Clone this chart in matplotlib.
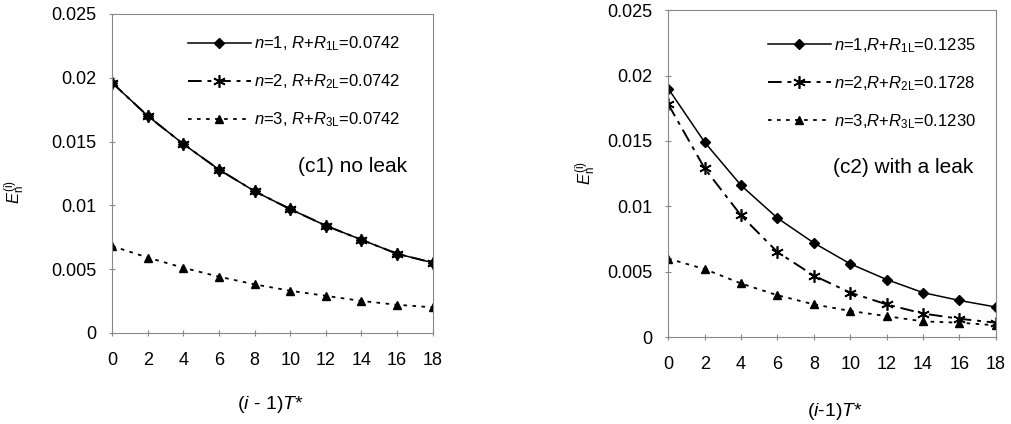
import matplotlib.pyplot as plt

plt.rcParams['font.family'] = ['Liberation Sans', 'DejaVu Sans']
plt.rcParams['mathtext.fontset'] = 'custom'
plt.rcParams['mathtext.rm'] = 'Liberation Sans'
plt.rcParams['mathtext.it'] = 'Liberation Sans:italic'

t = [0, 2, 4, 6, 8, 10, 12, 14, 16, 18]

# (c1) no leak
c1_n1 = [0.0196, 0.0170, 0.0148, 0.0128, 0.0111, 0.0097, 0.0084, 0.0073, 0.0062, 0.0055]
c1_n2 = [0.0196, 0.0170, 0.0148, 0.0128, 0.0111, 0.0097, 0.0084, 0.0073, 0.0062, 0.0055]
c1_n3 = [0.0068, 0.0059, 0.0051, 0.0044, 0.0038, 0.0033, 0.0029, 0.0025, 0.0022, 0.0020]
c1_labels = [r"$n$=1, $R$+$R_{\rm 1L}$=0.0742",
             r"$n$=2, $R$+$R_{\rm 2L}$=0.0742",
             r"$n$=3, $R$+$R_{\rm 3L}$=0.0742"]

# (c2) with a leak
c2_n1 = [0.0190, 0.0149, 0.0116, 0.0091, 0.0072, 0.0056, 0.0044, 0.0034, 0.0028, 0.0023]
c2_n2 = [0.0178, 0.0129, 0.0093, 0.0065, 0.0047, 0.0034, 0.0025, 0.0018, 0.0014, 0.0011]
c2_n3 = [0.0060, 0.0052, 0.0041, 0.0032, 0.0025, 0.0020, 0.0016, 0.0012, 0.0011, 0.0009]
c2_labels = [r"$n$=1,$R$+$R_{\rm 1L}$=0.1235",
             r"$n$=2,$R$+$R_{\rm 2L}$=0.1728",
             r"$n$=3,$R$+$R_{\rm 3L}$=0.1230"]

yticks = [0, 0.005, 0.01, 0.015, 0.02, 0.025]
ytick_labels = ["0", "0.005", "0.01", "0.015", "0.02", "0.025"]

asterisk = (6, 2, 0)


def draw_panel(ax, y1, y2, y3, labels, note, leg_anchor, note_xy):
    ax.plot(t, y1, color='black', lw=1.1, marker='D', ms=5, label=labels[0])
    ax.plot(t, y2, color='black', lw=1.4, ls=(0, (7, 3, 2, 3)), marker=asterisk,
            ms=9, mew=1.2, label=labels[1])
    ax.plot(t, y3, color='black', lw=1.3, ls=(0, (2, 3)), marker='^', ms=6,
            label=labels[2])
    ax.set_xlim(0, 18)
    ax.set_ylim(0, 0.025)
    ax.set_xticks(t)
    ax.set_yticks(yticks)
    ax.set_yticklabels(ytick_labels)
    for s in ax.spines.values():
        s.set_color('#888888')
    ax.tick_params(direction='inout', length=5, colors='#888888',
                   labelcolor='black', labelsize=13)
    ax.tick_params(axis='x', pad=11)
    ax.tick_params(axis='y', pad=9)
    ax.legend(loc='upper right', bbox_to_anchor=leg_anchor, frameon=False,
              fontsize=12, handlelength=3.8, handletextpad=0.2,
              labelspacing=1.15, borderpad=0, borderaxespad=0)
    ax.text(note_xy[0], note_xy[1], note, transform=ax.transAxes, ha='right',
            va='center', fontsize=15)


fig = plt.figure(figsize=(10.11, 4.24), dpi=100)
ax1 = fig.add_axes([0.111, 0.215, 0.317, 0.752])
ax2 = fig.add_axes([0.661, 0.205, 0.324, 0.771])

draw_panel(ax1, c1_n1, c1_n2, c1_n3, c1_labels, "(c1) no leak",
           (0.90, 0.935), (0.92, 0.523))
draw_panel(ax2, c2_n1, c2_n2, c2_n3, c2_labels, "(c2) with a leak",
           (0.94, 0.92), (0.93, 0.52))

fig.text(0.015, 0.547, r"$E_{\rm n}^{\rm (i)}$", rotation=90, ha='center',
         va='center', fontsize=12)
fig.text(0.579, 0.592, r"$E_{\rm n}^{\rm (i)}$", rotation=90, ha='center',
         va='center', fontsize=12)
fig.text(0.267, 0.045, r"($i$ - 1)$T$*", ha='center', va='center', fontsize=14)
fig.text(0.826, 0.03, r"($i$-1)$T$*", ha='center', va='center', fontsize=14)

fig.savefig('out.png', dpi=100)
